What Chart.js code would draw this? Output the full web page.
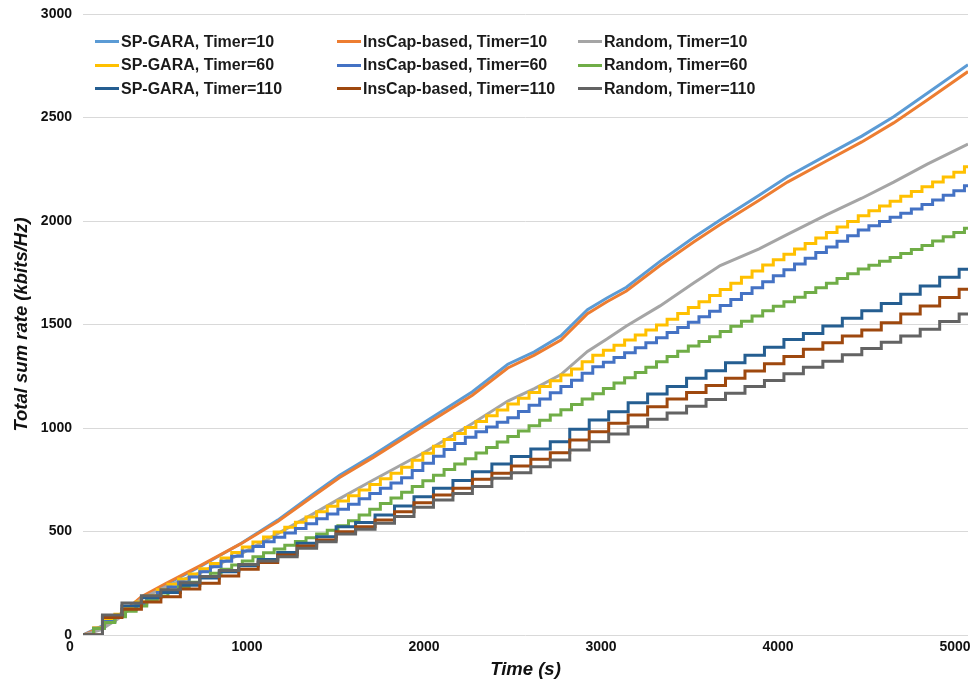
<!DOCTYPE html>
<html>
<head>
<meta charset="utf-8">
<script src="https://cdn.jsdelivr.net/npm/chart.js@4.4.1/dist/chart.umd.min.js"></script>
<style>
  body { margin: 0; background: #fff; }
  #wrap { position: relative; width: 975px; height: 685px; }
  #legend {
    position: absolute; left: 95px; top: 30px;
    display: grid; grid-template-columns: 242px 241px 240px;
    font: bold 16px "Liberation Sans", Arial, sans-serif; color: #1a1a1a;
  }
  .item { display: flex; align-items: center; height: 23.5px; white-space: nowrap; }
  .swatch { width: 24px; height: 3px; margin-right: 2px; }
</style>
</head>
<body>
<div id="wrap">
  <canvas id="chart" width="975" height="685"></canvas>
  <div id="legend"></div>
</div>
<script>
const FONT = '"Liberation Sans", Arial, sans-serif'

const xTicks = [0, 1000, 2000, 3000, 4000, 5000]
const yTicks = [0, 500, 1000, 1500, 2000, 2500, 3000]
const timeEnd = 5000

// Timer=10 curves, sampled at these times (s)
const times10 = [0, 100, 200, 330, 470, 660, 890, 1100, 1300, 1450, 1640, 1920, 2200, 2400, 2550,
  2700, 2850, 2960, 3070, 3260, 3450, 3600, 3820, 3980, 4200, 4400, 4580, 4770, 5000]
const spGara10 = [0, 40, 95, 180, 244, 330, 441, 555, 680, 772, 870, 1023, 1175, 1308, 1368,
  1445, 1572, 1628, 1680, 1805, 1920, 2005, 2124, 2214, 2317, 2410, 2504, 2617, 2755]
const insCap10 = [0, 35, 90, 185, 250, 334, 440, 548, 670, 761, 858, 1008, 1158, 1290, 1352,
  1425, 1552, 1610, 1662, 1785, 1898, 1983, 2100, 2188, 2290, 2382, 2474, 2584, 2722]
const random10 = [0, 25, 80, 175, 234, 300, 391, 490, 585, 659, 749, 878, 1022, 1130, 1190,
  1258, 1370, 1430, 1493, 1590, 1700, 1785, 1865, 1935, 2030, 2110, 2188, 2275, 2372]

// Timer=60 curves, one level per 60 s step
const spGara60 = [0, 35, 70, 100, 130, 160, 190, 218, 245, 270,
  295, 320, 345, 372, 398, 425, 449, 473, 497, 521,
  545, 570, 596, 622, 647, 673, 700, 727, 755, 782,
  810, 844, 878, 912, 944, 973, 1002, 1031, 1059, 1087,
  1116, 1144, 1172, 1200, 1228, 1256, 1285, 1320, 1352, 1376,
  1400, 1425, 1449, 1473, 1498, 1525, 1553, 1582, 1610, 1640,
  1669, 1699, 1728, 1758, 1787, 1813, 1839, 1865, 1891, 1918,
  1945, 1971, 1998, 2025, 2049, 2072, 2096, 2119, 2142, 2166,
  2189, 2212, 2235, 2262]
const insCap60 = [0, 33, 65, 94, 122, 150, 178, 205, 232, 256,
  280, 305, 330, 356, 381, 406, 428, 450, 472, 493,
  515, 538, 561, 584, 607, 632, 658, 683, 709, 734,
  760, 795, 830, 864, 896, 925, 955, 982, 1005, 1028,
  1050, 1080, 1110, 1140, 1170, 1200, 1231, 1265, 1296, 1318,
  1340, 1364, 1388, 1412, 1436, 1461, 1486, 1511, 1537, 1564,
  1592, 1621, 1650, 1678, 1707, 1735, 1764, 1792, 1820, 1848,
  1875, 1902, 1929, 1956, 1977, 1997, 2018, 2038, 2058, 2080,
  2102, 2124, 2146, 2170]
const random60 = [0, 31, 60, 88, 115, 140, 165, 188, 210, 233,
  255, 278, 298, 318, 338, 358, 378, 397, 416, 434,
  452, 470, 488, 506, 528, 552, 580, 607, 635, 662,
  690, 717, 745, 772, 799, 826, 852, 879, 906, 932,
  959, 986, 1011, 1037, 1063, 1088, 1114, 1140, 1165, 1191,
  1217, 1243, 1268, 1294, 1320, 1346, 1371, 1396, 1418, 1441,
  1466, 1491, 1516, 1541, 1566, 1588, 1610, 1632, 1655, 1677,
  1699, 1722, 1745, 1768, 1786, 1805, 1824, 1843, 1862, 1882,
  1903, 1924, 1944, 1965]

// Timer=110 curves, one level per 110 s step
const spGara110 = [0, 90, 140, 180, 205, 240, 275, 305, 335, 365,
  398, 443, 475, 523, 543, 580, 623, 668, 709, 746,
  789, 826, 862, 899, 934, 994, 1039, 1079, 1122, 1164,
  1200, 1240, 1276, 1315, 1352, 1390, 1428, 1457, 1493, 1530,
  1567, 1602, 1646, 1686, 1728, 1767]
const insCap110 = [0, 85, 125, 160, 185, 222, 250, 285, 318, 350,
  386, 430, 459, 499, 523, 556, 596, 639, 676, 709,
  752, 781, 816, 849, 881, 942, 982, 1023, 1063, 1103,
  1140, 1172, 1205, 1240, 1275, 1310, 1345, 1380, 1412, 1444,
  1473, 1509, 1551, 1589, 1630, 1670]
const random110 = [0, 97, 155, 190, 218, 252, 283, 312, 340, 358,
  378, 419, 451, 488, 511, 540, 572, 617, 652, 684,
  717, 757, 784, 813, 845, 894, 934, 971, 1006, 1042,
  1073, 1105, 1138, 1168, 1200, 1230, 1262, 1293, 1323, 1354,
  1384, 1414, 1444, 1477, 1514, 1551]

const series = [
  { label: 'SP-GARA, Timer=10', color: '#5B9BD5', times: times10, values: spGara10 },
  { label: 'InsCap-based, Timer=10', color: '#ED7D31', times: times10, values: insCap10 },
  { label: 'Random, Timer=10', color: '#A5A5A5', times: times10, values: random10 },
  { label: 'SP-GARA, Timer=60', color: '#FFC000', timer: 60, values: spGara60 },
  { label: 'InsCap-based, Timer=60', color: '#4472C4', timer: 60, values: insCap60 },
  { label: 'Random, Timer=60', color: '#70AD47', timer: 60, values: random60 },
  { label: 'SP-GARA, Timer=110', color: '#255E91', timer: 110, values: spGara110 },
  { label: 'InsCap-based, Timer=110', color: '#9E480E', timer: 110, values: insCap110 },
  { label: 'Random, Timer=110', color: '#636363', timer: 110, values: random110 },
]

function toPoints(s) {
  const pts = s.values.map((v, i) => ({ x: s.times ? s.times[i] : i * s.timer, y: v }))
  const last = pts[pts.length - 1]
  if (last.x < timeEnd) pts.push({ x: timeEnd, y: last.y })
  return pts
}

const datasets = series.map((s, i) => ({
  label: s.label,
  data: toPoints(s),
  borderColor: s.color,
  backgroundColor: s.color,
  borderWidth: 3,
  pointRadius: 0,
  fill: false,
  stepped: s.timer ? 'before' : false,
  tension: 0,
  order: series.length - i,
}))

const tickFont = { family: FONT, size: 14, weight: 'bold' }
const titleFont = { family: FONT, size: 18.5, weight: 'bold', style: 'italic' }

new Chart(document.getElementById('chart'), {
  type: 'line',
  data: { datasets },
  options: {
    responsive: false,
    animation: false,
    layout: { padding: { top: 14, right: 7, left: 0, bottom: 0 } },
    plugins: { legend: { display: false }, tooltip: { enabled: false } },
    scales: {
      x: {
        type: 'linear', min: 0, max: timeEnd,
        afterBuildTicks: s => { s.ticks = xTicks.map(v => ({ value: v })) },
        afterFit: s => { s.height = 50; s.paddingLeft = 0; s.paddingRight = 0 },
        grid: { display: false, drawTicks: false },
        border: { display: false },
        ticks: {
          padding: 4, labelOffset: -13, color: '#111', font: tickFont,
          maxRotation: 0, autoSkip: false, callback: v => String(v),
        },
        title: { display: true, text: 'Time (s)', color: '#111', font: titleFont, padding: { top: 0, bottom: 4 } },
      },
      y: {
        type: 'linear', min: 0, max: 3000,
        afterBuildTicks: s => { s.ticks = yTicks.map(v => ({ value: v })) },
        afterFit: s => { s.width = 83; s.paddingTop = 0; s.paddingBottom = 0 },
        grid: { color: '#d9d9d9', lineWidth: 1, drawTicks: false },
        border: { display: false },
        ticks: { padding: 11, color: '#111', font: tickFont, callback: v => String(v) },
        title: {
          display: true, text: 'Total sum rate (kbits/Hz)', color: '#111', font: titleFont,
          padding: { top: 11, bottom: 0 },
        },
      },
    },
  },
})

const legend = document.getElementById('legend')
series.forEach(s => {
  const item = document.createElement('div')
  item.className = 'item'
  const sw = document.createElement('span')
  sw.className = 'swatch'
  sw.style.background = s.color
  item.appendChild(sw)
  item.appendChild(document.createTextNode(s.label))
  legend.appendChild(item)
})
</script>
</body>
</html>
